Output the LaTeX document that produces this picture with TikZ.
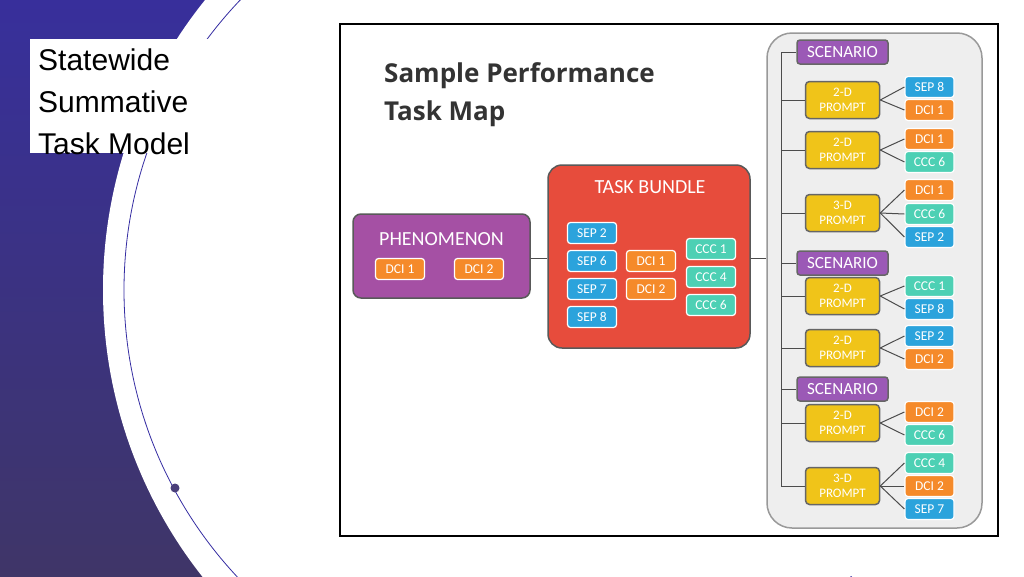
\documentclass[tikz,border=0pt]{standalone}
\usepackage{fontspec}
\setmainfont{Carlito}
\newfontfamily\arial{Liberation Sans}
\newfontfamily\hdr{Open Sans}
\begin{document}
\begin{tikzpicture}[x=1pt,y=-1pt,
  box/.style={rounded corners=3pt,draw=white,line width=1.2pt,minimum width=49pt,minimum height=21pt,inner sep=0pt,text=white,font=\fontsize{13.5}{14}\selectfont},
  sep/.style={box,fill=sepc},dci/.style={box,fill=dcic},ccc/.style={box,fill=cccc},
  prompt/.style={rounded corners=4pt,draw=gray!80!black,line width=1.5pt,fill=promc,minimum width=74pt,minimum height=37pt,inner sep=0pt,text=white,align=center,font=\fontsize{13}{15}\selectfont},
  scen/.style={rounded corners=3pt,draw=gray!80!black,line width=1.5pt,fill=scenc,minimum width=91pt,minimum height=24pt,inner sep=0pt,text=white,font=\fontsize{17}{18}\selectfont},
  conn/.style={draw=gray!60!black,line width=1pt}]
\definecolor{sepc}{HTML}{2BA3DC}\definecolor{dcic}{HTML}{F58A2A}\definecolor{cccc}{HTML}{4DD0B4}
\definecolor{promc}{HTML}{F0C419}\definecolor{scenc}{HTML}{9B59B6}\definecolor{bgp}{HTML}{4A3F7A}
\definecolor{redc}{HTML}{E74C3C}
\useasboundingbox (0,0) rectangle (1024,576);
\begin{scope}
\clip (0,0) rectangle (1024,576);
\shade[top color=bgp!75!blue,bottom color=bgp!85!black] (0,0) rectangle (320,576);
\fill[white] (566,290) circle[radius=463];
\draw[bgp!70!blue,line width=0.8pt] (544,290) circle[radius=420];
\fill[white] (320,0) rectangle (1024,576);
\end{scope}
\fill[bgp] (175,488) circle[radius=4.5];
\node[fill=white,anchor=north west,minimum width=188pt,minimum height=114pt,inner sep=0pt] (tb) at (30,39) {};
\node[anchor=north west,align=left,font=\arial\fontsize{30}{42}\selectfont,inner sep=0pt] (title) at (38,49) {Statewide\\Summative\\Task Model};
% frame
\draw[black,line width=2pt] (340,24) rectangle (998,536);
\node[anchor=west,align=left,font=\hdr\bfseries\fontsize{26}{38}\selectfont,text=black!80,inner sep=0pt] (hd) at (384,95) {Sample Performance\\Task Map};
% phenomenon
\node[rounded corners=8pt,draw=gray!70!black,line width=1.5pt,fill=scenc!90!red,minimum width=177pt,minimum height=84pt] (ph) at (441.5,256) {};
\node[text=white,font=\fontsize{20}{22}\selectfont] (pht) at (441.5,239) {PHENOMENON};
\node[dci] (pd1) at (400,269) {DCI 1};
\node[dci] (pd2) at (479,269) {DCI 2};
% task bundle
\node[rounded corners=14pt,draw=gray!70!black,line width=1.5pt,fill=redc,minimum width=202pt,minimum height=183pt] (tbd) at (649,256.5) {};
\node[text=white,font=\fontsize{20}{22}\selectfont] (tbt) at (650,187) {TASK BUNDLE};
\node[sep] (s2) at (592,233) {SEP 2};
\node[sep] (s6) at (592,261) {SEP 6};
\node[sep] (s7) at (592,289) {SEP 7};
\node[sep] (s8) at (592,317) {SEP 8};
\node[dci] (d1) at (651,261) {DCI 1};
\node[dci] (d2) at (651,289) {DCI 2};
\node[ccc] (c1) at (711,249) {CCC 1};
\node[ccc] (c4) at (711,277) {CCC 4};
\node[ccc] (c6) at (711,305) {CCC 6};
\draw[conn] (ph.east |- 0,258) -- (tbd.west |- 0,258);
% right panel
\node[rounded corners=25pt,draw=gray!80,line width=1.5pt,fill=gray!13,minimum width=215pt,minimum height=495pt] (rp) at (874.5,280.5) {};
\draw[conn] (tbd.east |- 0,258) -- (rp.west |- 0,258);
\coordinate (t0) at (781,52); \coordinate (t1) at (781,486);
\draw[conn] (t0) -- (t1);
\node[scen] (sc1) at (842.5,52) {SCENARIO};
\node[scen] (sc2) at (842.5,263) {SCENARIO};
\node[scen] (sc3) at (842.5,389) {SCENARIO};
\foreach \n/\t/\y in {p1/2-D/100,p2/2-D/150,p3/3-D/213,p4/2-D/296,p5/2-D/348,p6/2-D/423,p7/3-D/486}{
  \node[prompt] (\n) at (842.5,\y) {\t\\PROMPT};
  \draw[conn] (781,\y) -- (\n.west);}
\foreach \n in {sc1,sc2,sc3}{\draw[conn] (781,0 |- \n.west) -- (\n.west);}
\foreach \p/\n/\s/\t/\y in {p1/a1/sep/SEP 8/87,p1/a2/dci/DCI 1/110,
  p2/b1/dci/DCI 1/139,p2/b2/ccc/CCC 6/162,
  p3/c1/dci/DCI 1/190,p3/c2/ccc/CCC 6/214,p3/c3/sep/SEP 2/237,
  p4/e1/ccc/CCC 1/286,p4/e2/sep/SEP 8/309,
  p5/f1/sep/SEP 2/336,p5/f2/dci/DCI 2/359,
  p6/g1/dci/DCI 2/412,p6/g2/ccc/CCC 6/435,
  p7/h1/ccc/CCC 4/463,p7/h2/dci/DCI 2/486,p7/h3/sep/SEP 7/509}{
  \node[\s] (\n) at (929.5,\y) {\t};
  \draw[conn] (\p.east) -- (\n.west);}
\end{tikzpicture}
\end{document}
